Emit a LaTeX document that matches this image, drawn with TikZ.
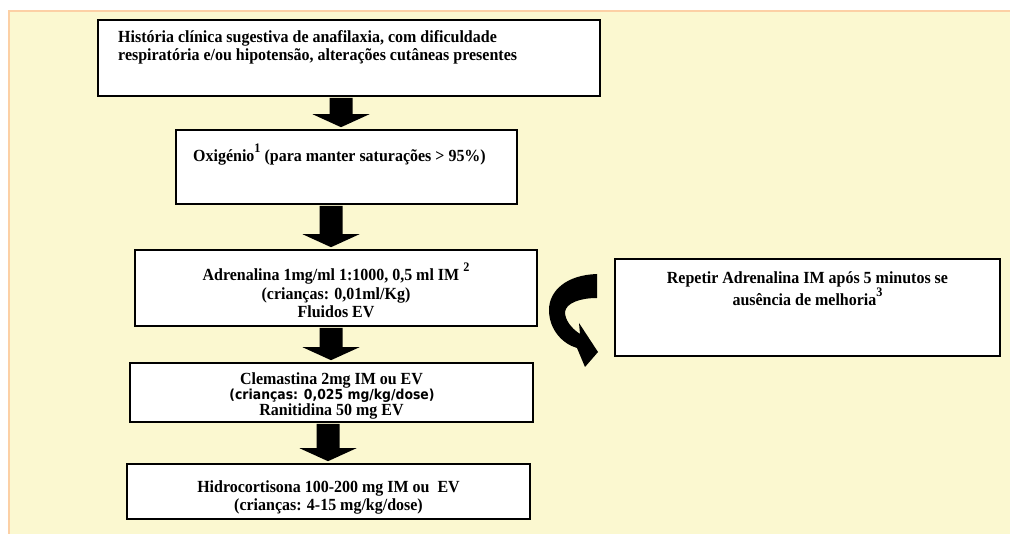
\documentclass[tikz,border=0pt]{standalone}
\usepackage{fontspec}
\setmainfont{Liberation Serif}[FakeStretch=0.94]
\newfontfamily\tahomafont{DejaVu Sans}[FakeStretch=0.9]
\usetikzlibrary{calc}
\definecolor{bgyellow}{RGB}{251,248,208}
\definecolor{bgborder}{RGB}{252,208,165}
\tikzset{
  flowbox/.style={draw=black, line width=1.6pt, fill=white, inner sep=0pt},
  boxtext/.style={font=\bfseries\fontsize{17}{18.7}\selectfont, inner sep=0pt},
  fatarrow/.style={fill=black, draw=none},
}
\newcommand{\supnum}[1]{\raisebox{0.55em}{\fontsize{13}{13}\selectfont #1}}
% #1 from node, #2 to node, #3 x centre (pt)
\newcommand{\fatdownarrow}[3]{%
  \fill[fatarrow] let \p1=(#1.south), \p2=(#2.north) in
    (#3pt-11.5pt,\y1-1pt) -- (#3pt+11.5pt,\y1-1pt) -- (#3pt+11.5pt,\y2+15pt)
    -- (#3pt+28.5pt,\y2+15pt) -- (#3pt,\y2+2pt) -- (#3pt-28.5pt,\y2+15pt)
    -- (#3pt-11.5pt,\y2+15pt) -- cycle;}
\begin{document}
\begin{tikzpicture}[x=1pt,y=-1pt]
\useasboundingbox (0,0) rectangle (1010,534);
\fill[white] (0,0) rectangle (1010,534);
\fill[bgyellow] (9,11) rectangle (1012,536);
\draw[bgborder, line width=2pt] (9,540) -- (9,11) -- (1015,11);

% boxes
\node[flowbox, minimum width=502pt, minimum height=76pt] (b1) at (349,58) {};
\node[flowbox, minimum width=341pt, minimum height=74pt] (b2) at (346.5,167) {};
\node[flowbox, minimum width=402pt, minimum height=76pt] (b3) at (336,288) {};
\node[flowbox, minimum width=403pt, minimum height=59pt] (b4) at (331.5,392.5) {};
\node[flowbox, minimum width=403pt, minimum height=55pt] (b5) at (328.5,491.5) {};
\node[flowbox, minimum width=385pt, minimum height=97pt] (b6) at (807.5,307.5) {};

% texts (multi-line nodes anchored at the baseline of their last line)
\node[boxtext, anchor=base west, align=left] (t1) at (118,61)
  {História clínica sugestiva de anafilaxia, com dificuldade\\
   respiratória e/ou hipotensão, alterações cutâneas presentes};
\node[boxtext, anchor=base west] (t2) at (193,162)
  {Oxigénio\supnum{1} (para manter saturações > 95\%)};
\node[boxtext, anchor=base, align=center] (t3) at (336,318)
  {Adrenalina 1mg/ml 1:1000, 0,5 ml IM \supnum{2}\\
   (crianças: 0,01ml/Kg)\\
   Fluidos EV};
\node[boxtext, anchor=base] (t4a) at (331.5,385) {Clemastina 2mg IM ou EV};
\node[font=\tahomafont\bfseries\fontsize{13.8}{14}\selectfont, inner sep=0pt, anchor=base] (t4b) at (332,400)
  {(crianças: 0,025 mg/kg/dose)};
\node[boxtext, anchor=base] (t4c) at (331.5,416) {Ranitidina 50 mg EV};
\node[boxtext, anchor=base, align=center] (t5) at (328.5,511)
  {Hidrocortisona 100-200 mg IM ou~ EV\\
   (crianças: 4-15 mg/kg/dose)};
\node[boxtext, anchor=base, align=center] (t6) at (807.5,306)
  {Repetir Adrenalina IM após 5 minutos se\\
   ausência de melhoria\supnum{3}};

% fat arrows
\fatdownarrow{b1}{b2}{341}
\fatdownarrow{b2}{b3}{331}
\fatdownarrow{b3}{b4}{331}
\fatdownarrow{b4}{b5}{328}

% curved arrow towards the repeat box
\coordinate (ca) at (597,274);
\fill[fatarrow] (ca) .. controls (566,275) and (549,291) .. (549,310)
  .. controls (549,330) and (563,344) .. (577,348)
  -- (585,367) -- (598,352) -- (579,323) -- (580,334)
  .. controls (571,328) and (565,320) .. (565,312)
  .. controls (566,303) and (580,298) .. (597,298) -- cycle;
\end{tikzpicture}
\end{document}
